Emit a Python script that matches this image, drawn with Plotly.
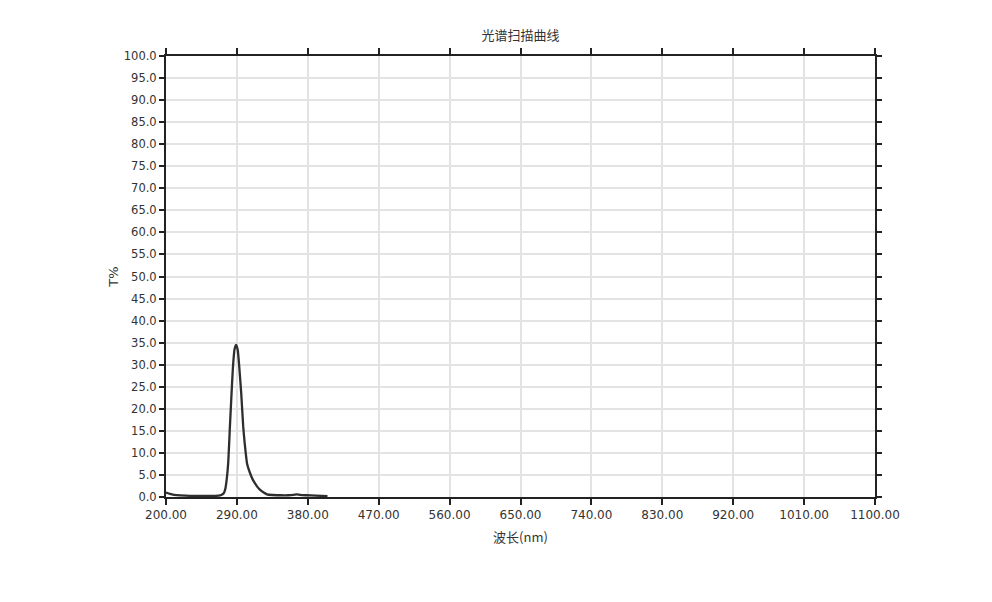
import plotly.graph_objects as go

wavelength = [200, 205, 210, 218, 225, 235, 245, 255, 262, 267, 270, 273, 275, 277, 279, 281, 283, 285,
              287, 289, 291, 293, 295.5, 298, 300, 303, 306.5, 310, 313, 316, 319.5, 324, 328, 335, 345,
              355, 362, 366, 370, 378, 390, 405]
transmittance = [1.0, 0.7, 0.5, 0.35, 0.3, 0.25, 0.25, 0.25, 0.25, 0.3, 0.45, 0.8, 1.6, 3.9, 7.8, 15.5,
                 22.8, 29.5, 33.5, 34.5, 33.4, 29.5, 23.5, 16, 12, 7.5, 5.5, 4.0, 3.1, 2.3, 1.6, 1.0, 0.6,
                 0.45, 0.4, 0.4, 0.5, 0.6, 0.5, 0.4, 0.3, 0.2]

x_ticks = [200, 290, 380, 470, 560, 650, 740, 830, 920, 1010, 1100]
y_ticks = [0, 5, 10, 15, 20, 25, 30, 35, 40, 45, 50, 55, 60, 65, 70, 75, 80, 85, 90, 95, 100]

title_text = "光谱扫描曲线"
x_title = "波长(nm)"
y_title = "T%"

font_fam = "DejaVu Sans, Noto Sans CJK SC"

fig = go.Figure()
fig.add_trace(go.Scatter(
    x=wavelength, y=transmittance, mode="lines",
    line=dict(color="#2e2e2e", width=2.3, shape="spline", smoothing=0.5),
    showlegend=False, hoverinfo="x+y"
))

fig.update_layout(
    width=992, height=602,
    paper_bgcolor="white", plot_bgcolor="white",
    margin=dict(l=158, r=125, t=48, b=113),
    font=dict(family=font_fam, color="#333333", size=12),
    title=dict(text=title_text, x=0.5, xref="paper", xanchor="center",
               y=1 - 27 / 602, yref="container", yanchor="middle",
               font=dict(family="Noto Sans CJK SC", size=13, color="#333333")),
)

fig.update_xaxes(
    range=[200, 1100], tickvals=x_ticks, tickformat=".2f",
    showline=True, linecolor="#222222", linewidth=2, mirror="ticks",
    ticks="outside", ticklen=6, tickwidth=2, tickcolor="#222222",
    showgrid=True, gridcolor="#e3e3e3", gridwidth=1.5, zeroline=False,
    tickfont=dict(family=font_fam, size=12, color="#333333"),
    title=dict(text=x_title, standoff=11,
               font=dict(family="Noto Sans CJK SC", size=13, color="#333333")),
)
fig.update_yaxes(
    range=[0, 100], tickvals=y_ticks, tickformat=".1f",
    showline=True, linecolor="#222222", linewidth=2, mirror="ticks",
    ticks="outside", ticklen=5, tickwidth=2, tickcolor="#222222",
    showgrid=True, gridcolor="#e3e3e3", gridwidth=1.5, zeroline=False,
    tickfont=dict(family=font_fam, size=11.5, color="#333333"),
    title=dict(text=y_title, standoff=2,
               font=dict(family=font_fam, size=13, color="#333333")),
)

fig.write_html("out.html")
